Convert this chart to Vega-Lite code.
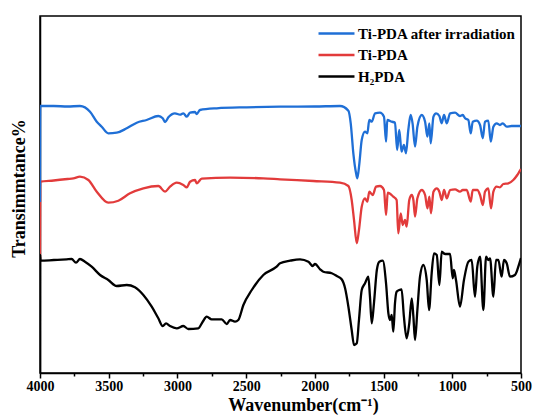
{
  "$schema": "https://vega.github.io/schema/vega-lite/v6.json",
  "width": 481,
  "height": 357,
  "autosize": {"type": "none"},
  "padding": {"left": 40, "top": 16, "right": 12, "bottom": 46},
  "background": "white",
  "config": {
    "view": {"stroke": "black", "strokeWidth": 1.5},
    "font": "Liberation Serif"
  },
  "datasets": {
    "spectra": [
      {"series": "Ti-PDA", "wn": 4000, "t": 138}, {"series": "Ti-PDA", "wn": 3998, "t": 218.3}, {"series": "Ti-PDA", "wn": 3900, "t": 219.5},
      {"series": "Ti-PDA", "wn": 3800, "t": 221}, {"series": "Ti-PDA", "wn": 3757, "t": 221.7}, {"series": "Ti-PDA", "wn": 3709, "t": 223.3},
      {"series": "Ti-PDA", "wn": 3648, "t": 220}, {"series": "Ti-PDA", "wn": 3587, "t": 208.3}, {"series": "Ti-PDA", "wn": 3503, "t": 197.3},
      {"series": "Ti-PDA", "wn": 3430, "t": 199.3}, {"series": "Ti-PDA", "wn": 3345, "t": 206.7}, {"series": "Ti-PDA", "wn": 3248, "t": 211.7},
      {"series": "Ti-PDA", "wn": 3139, "t": 214}, {"series": "Ti-PDA", "wn": 3090, "t": 208.3}, {"series": "Ti-PDA", "wn": 3054, "t": 213.3},
      {"series": "Ti-PDA", "wn": 3005, "t": 217.3}, {"series": "Ti-PDA", "wn": 2957, "t": 215}, {"series": "Ti-PDA", "wn": 2932, "t": 212.7},
      {"series": "Ti-PDA", "wn": 2908, "t": 218.3}, {"series": "Ti-PDA", "wn": 2872, "t": 220}, {"series": "Ti-PDA", "wn": 2860, "t": 216.7},
      {"series": "Ti-PDA", "wn": 2823, "t": 221.3}, {"series": "Ti-PDA", "wn": 2617, "t": 222.3}, {"series": "Ti-PDA", "wn": 2375, "t": 221.7},
      {"series": "Ti-PDA", "wn": 2253, "t": 220.7}, {"series": "Ti-PDA", "wn": 2011, "t": 219}, {"series": "Ti-PDA", "wn": 1817, "t": 217.3},
      {"series": "Ti-PDA", "wn": 1756, "t": 214}, {"series": "Ti-PDA", "wn": 1732, "t": 200}, {"series": "Ti-PDA", "wn": 1715, "t": 180},
      {"series": "Ti-PDA", "wn": 1695, "t": 156.7}, {"series": "Ti-PDA", "wn": 1679, "t": 170}, {"series": "Ti-PDA", "wn": 1659, "t": 193.3},
      {"series": "Ti-PDA", "wn": 1635, "t": 201.7}, {"series": "Ti-PDA", "wn": 1618, "t": 198.3}, {"series": "Ti-PDA", "wn": 1604, "t": 208.3},
      {"series": "Ti-PDA", "wn": 1579, "t": 205}, {"series": "Ti-PDA", "wn": 1555, "t": 213.3}, {"series": "Ti-PDA", "wn": 1526, "t": 214},
      {"series": "Ti-PDA", "wn": 1497, "t": 210}, {"series": "Ti-PDA", "wn": 1482, "t": 185}, {"series": "Ti-PDA", "wn": 1470, "t": 207.3},
      {"series": "Ti-PDA", "wn": 1429, "t": 203.3}, {"series": "Ti-PDA", "wn": 1405, "t": 200}, {"series": "Ti-PDA", "wn": 1393, "t": 166.7},
      {"series": "Ti-PDA", "wn": 1375, "t": 186.7}, {"series": "Ti-PDA", "wn": 1361, "t": 175}, {"series": "Ti-PDA", "wn": 1344, "t": 180},
      {"series": "Ti-PDA", "wn": 1332, "t": 173.3}, {"series": "Ti-PDA", "wn": 1313, "t": 200}, {"series": "Ti-PDA", "wn": 1295, "t": 205},
      {"series": "Ti-PDA", "wn": 1283, "t": 200}, {"series": "Ti-PDA", "wn": 1271, "t": 183.3}, {"series": "Ti-PDA", "wn": 1254, "t": 201.7},
      {"series": "Ti-PDA", "wn": 1222, "t": 210}, {"series": "Ti-PDA", "wn": 1198, "t": 205}, {"series": "Ti-PDA", "wn": 1181, "t": 191.7},
      {"series": "Ti-PDA", "wn": 1167, "t": 203.3}, {"series": "Ti-PDA", "wn": 1155, "t": 186.7}, {"series": "Ti-PDA", "wn": 1137, "t": 208.3},
      {"series": "Ti-PDA", "wn": 1113, "t": 211.7}, {"series": "Ti-PDA", "wn": 1094, "t": 208.3}, {"series": "Ti-PDA", "wn": 1077, "t": 200},
      {"series": "Ti-PDA", "wn": 1060, "t": 210}, {"series": "Ti-PDA", "wn": 1040, "t": 201.7}, {"series": "Ti-PDA", "wn": 1016, "t": 210},
      {"series": "Ti-PDA", "wn": 980, "t": 210.7}, {"series": "Ti-PDA", "wn": 944, "t": 208.3}, {"series": "Ti-PDA", "wn": 924, "t": 210},
      {"series": "Ti-PDA", "wn": 895, "t": 210}, {"series": "Ti-PDA", "wn": 866, "t": 198.3}, {"series": "Ti-PDA", "wn": 851, "t": 210},
      {"series": "Ti-PDA", "wn": 818, "t": 210}, {"series": "Ti-PDA", "wn": 798, "t": 205}, {"series": "Ti-PDA", "wn": 778, "t": 195},
      {"series": "Ti-PDA", "wn": 762, "t": 208.3}, {"series": "Ti-PDA", "wn": 738, "t": 211.7}, {"series": "Ti-PDA", "wn": 718, "t": 191.7},
      {"series": "Ti-PDA", "wn": 701, "t": 208.3}, {"series": "Ti-PDA", "wn": 677, "t": 213.3}, {"series": "Ti-PDA", "wn": 653, "t": 212.7},
      {"series": "Ti-PDA", "wn": 629, "t": 216}, {"series": "Ti-PDA", "wn": 592, "t": 216.7}, {"series": "Ti-PDA", "wn": 556, "t": 220},
      {"series": "Ti-PDA", "wn": 527, "t": 225}, {"series": "Ti-PDA", "wn": 512, "t": 228.3}, {"series": "Ti-PDA", "wn": 500, "t": 231},

      {"series": "Ti-PDA after irradiation", "wn": 4000, "t": 198}, {"series": "Ti-PDA after irradiation", "wn": 3998, "t": 294},
      {"series": "Ti-PDA after irradiation", "wn": 3900, "t": 294}, {"series": "Ti-PDA after irradiation", "wn": 3800, "t": 293.5},
      {"series": "Ti-PDA after irradiation", "wn": 3709, "t": 294}, {"series": "Ti-PDA after irradiation", "wn": 3636, "t": 288.3},
      {"series": "Ti-PDA after irradiation", "wn": 3587, "t": 278.3}, {"series": "Ti-PDA after irradiation", "wn": 3551, "t": 273.3},
      {"series": "Ti-PDA after irradiation", "wn": 3503, "t": 266.7}, {"series": "Ti-PDA after irradiation", "wn": 3442, "t": 267.3},
      {"series": "Ti-PDA after irradiation", "wn": 3369, "t": 271.7}, {"series": "Ti-PDA after irradiation", "wn": 3296, "t": 277.3},
      {"series": "Ti-PDA after irradiation", "wn": 3224, "t": 280}, {"series": "Ti-PDA after irradiation", "wn": 3139, "t": 284},
      {"series": "Ti-PDA after irradiation", "wn": 3107, "t": 281.7}, {"series": "Ti-PDA after irradiation", "wn": 3090, "t": 278},
      {"series": "Ti-PDA after irradiation", "wn": 3066, "t": 282.7}, {"series": "Ti-PDA after irradiation", "wn": 3018, "t": 286.7},
      {"series": "Ti-PDA after irradiation", "wn": 2981, "t": 285.3}, {"series": "Ti-PDA after irradiation", "wn": 2957, "t": 286.7},
      {"series": "Ti-PDA after irradiation", "wn": 2932, "t": 283.3}, {"series": "Ti-PDA after irradiation", "wn": 2908, "t": 287.3},
      {"series": "Ti-PDA after irradiation", "wn": 2872, "t": 288}, {"series": "Ti-PDA after irradiation", "wn": 2860, "t": 286},
      {"series": "Ti-PDA after irradiation", "wn": 2836, "t": 290}, {"series": "Ti-PDA after irradiation", "wn": 2714, "t": 291.7},
      {"series": "Ti-PDA after irradiation", "wn": 2496, "t": 292.7}, {"series": "Ti-PDA after irradiation", "wn": 2253, "t": 293.3},
      {"series": "Ti-PDA after irradiation", "wn": 2000, "t": 293.5}, {"series": "Ti-PDA after irradiation", "wn": 1817, "t": 294},
      {"series": "Ti-PDA after irradiation", "wn": 1756, "t": 289.3}, {"series": "Ti-PDA after irradiation", "wn": 1739, "t": 276.7},
      {"series": "Ti-PDA after irradiation", "wn": 1720, "t": 246.7}, {"series": "Ti-PDA after irradiation", "wn": 1700, "t": 226.7},
      {"series": "Ti-PDA after irradiation", "wn": 1691, "t": 221.7}, {"series": "Ti-PDA after irradiation", "wn": 1676, "t": 236.7},
      {"series": "Ti-PDA after irradiation", "wn": 1659, "t": 260}, {"series": "Ti-PDA after irradiation", "wn": 1635, "t": 268.3},
      {"series": "Ti-PDA after irradiation", "wn": 1618, "t": 266.7}, {"series": "Ti-PDA after irradiation", "wn": 1604, "t": 280},
      {"series": "Ti-PDA after irradiation", "wn": 1586, "t": 278.3}, {"series": "Ti-PDA after irradiation", "wn": 1562, "t": 286.7},
      {"series": "Ti-PDA after irradiation", "wn": 1526, "t": 287.3}, {"series": "Ti-PDA after irradiation", "wn": 1497, "t": 283.3},
      {"series": "Ti-PDA after irradiation", "wn": 1482, "t": 258.3}, {"series": "Ti-PDA after irradiation", "wn": 1473, "t": 280},
      {"series": "Ti-PDA after irradiation", "wn": 1441, "t": 278.3}, {"series": "Ti-PDA after irradiation", "wn": 1417, "t": 277.3},
      {"series": "Ti-PDA after irradiation", "wn": 1401, "t": 250}, {"series": "Ti-PDA after irradiation", "wn": 1386, "t": 270},
      {"series": "Ti-PDA after irradiation", "wn": 1369, "t": 248.3}, {"series": "Ti-PDA after irradiation", "wn": 1352, "t": 255},
      {"series": "Ti-PDA after irradiation", "wn": 1337, "t": 246.7}, {"series": "Ti-PDA after irradiation", "wn": 1320, "t": 270},
      {"series": "Ti-PDA after irradiation", "wn": 1303, "t": 285}, {"series": "Ti-PDA after irradiation", "wn": 1289, "t": 276.7},
      {"series": "Ti-PDA after irradiation", "wn": 1271, "t": 253.3}, {"series": "Ti-PDA after irradiation", "wn": 1254, "t": 273.3},
      {"series": "Ti-PDA after irradiation", "wn": 1222, "t": 285}, {"series": "Ti-PDA after irradiation", "wn": 1198, "t": 278.3},
      {"series": "Ti-PDA after irradiation", "wn": 1181, "t": 263.3}, {"series": "Ti-PDA after irradiation", "wn": 1167, "t": 276.7},
      {"series": "Ti-PDA after irradiation", "wn": 1157, "t": 256.7}, {"series": "Ti-PDA after irradiation", "wn": 1137, "t": 283.3},
      {"series": "Ti-PDA after irradiation", "wn": 1118, "t": 286.7}, {"series": "Ti-PDA after irradiation", "wn": 1094, "t": 284},
      {"series": "Ti-PDA after irradiation", "wn": 1077, "t": 276.7}, {"series": "Ti-PDA after irradiation", "wn": 1060, "t": 285},
      {"series": "Ti-PDA after irradiation", "wn": 1040, "t": 276.7}, {"series": "Ti-PDA after irradiation", "wn": 1016, "t": 286.7},
      {"series": "Ti-PDA after irradiation", "wn": 980, "t": 287.3}, {"series": "Ti-PDA after irradiation", "wn": 944, "t": 284},
      {"series": "Ti-PDA after irradiation", "wn": 924, "t": 285}, {"series": "Ti-PDA after irradiation", "wn": 907, "t": 281.7},
      {"series": "Ti-PDA after irradiation", "wn": 883, "t": 280}, {"series": "Ti-PDA after irradiation", "wn": 866, "t": 266.7},
      {"series": "Ti-PDA after irradiation", "wn": 851, "t": 278.3}, {"series": "Ti-PDA after irradiation", "wn": 822, "t": 279.3},
      {"series": "Ti-PDA after irradiation", "wn": 798, "t": 275}, {"series": "Ti-PDA after irradiation", "wn": 778, "t": 261.7},
      {"series": "Ti-PDA after irradiation", "wn": 762, "t": 278.3}, {"series": "Ti-PDA after irradiation", "wn": 738, "t": 279.3},
      {"series": "Ti-PDA after irradiation", "wn": 720, "t": 258.3}, {"series": "Ti-PDA after irradiation", "wn": 701, "t": 273.3},
      {"series": "Ti-PDA after irradiation", "wn": 677, "t": 276.7}, {"series": "Ti-PDA after irradiation", "wn": 653, "t": 275},
      {"series": "Ti-PDA after irradiation", "wn": 633, "t": 276.7}, {"series": "Ti-PDA after irradiation", "wn": 604, "t": 273.3},
      {"series": "Ti-PDA after irradiation", "wn": 568, "t": 274}, {"series": "Ti-PDA after irradiation", "wn": 520, "t": 274},
      {"series": "Ti-PDA after irradiation", "wn": 500, "t": 274},

      {"series": "H₂PDA", "wn": 4000, "t": 0}, {"series": "H₂PDA", "wn": 3999, "t": 145}, {"series": "H₂PDA", "wn": 3996, "t": 139.3},
      {"series": "H₂PDA", "wn": 3900, "t": 140}, {"series": "H₂PDA", "wn": 3806, "t": 140.7}, {"series": "H₂PDA", "wn": 3770, "t": 141},
      {"series": "H₂PDA", "wn": 3738, "t": 137.3}, {"series": "H₂PDA", "wn": 3709, "t": 141}, {"series": "H₂PDA", "wn": 3673, "t": 138.3},
      {"series": "H₂PDA", "wn": 3624, "t": 133.3}, {"series": "H₂PDA", "wn": 3563, "t": 125}, {"series": "H₂PDA", "wn": 3503, "t": 120},
      {"series": "H₂PDA", "wn": 3442, "t": 114}, {"series": "H₂PDA", "wn": 3369, "t": 115}, {"series": "H₂PDA", "wn": 3309, "t": 112.7},
      {"series": "H₂PDA", "wn": 3248, "t": 105}, {"series": "H₂PDA", "wn": 3187, "t": 93.3}, {"series": "H₂PDA", "wn": 3139, "t": 81.7},
      {"series": "H₂PDA", "wn": 3107, "t": 74}, {"series": "H₂PDA", "wn": 3083, "t": 76.7}, {"series": "H₂PDA", "wn": 3054, "t": 74},
      {"series": "H₂PDA", "wn": 3005, "t": 71.7}, {"series": "H₂PDA", "wn": 2957, "t": 74}, {"series": "H₂PDA", "wn": 2921, "t": 71},
      {"series": "H₂PDA", "wn": 2848, "t": 71.7}, {"series": "H₂PDA", "wn": 2816, "t": 78.3}, {"series": "H₂PDA", "wn": 2787, "t": 83.3},
      {"series": "H₂PDA", "wn": 2751, "t": 80.7}, {"series": "H₂PDA", "wn": 2678, "t": 80.7}, {"series": "H₂PDA", "wn": 2641, "t": 76},
      {"series": "H₂PDA", "wn": 2617, "t": 80}, {"series": "H₂PDA", "wn": 2581, "t": 78.3}, {"series": "H₂PDA", "wn": 2557, "t": 80},
      {"series": "H₂PDA", "wn": 2520, "t": 95}, {"series": "H₂PDA", "wn": 2459, "t": 110}, {"series": "H₂PDA", "wn": 2375, "t": 125},
      {"series": "H₂PDA", "wn": 2278, "t": 133.3}, {"series": "H₂PDA", "wn": 2253, "t": 136.7}, {"series": "H₂PDA", "wn": 2180, "t": 139.3},
      {"series": "H₂PDA", "wn": 2108, "t": 140.7}, {"series": "H₂PDA", "wn": 2047, "t": 138.3}, {"series": "H₂PDA", "wn": 2016, "t": 134},
      {"series": "H₂PDA", "wn": 1999, "t": 136}, {"series": "H₂PDA", "wn": 1962, "t": 130.7}, {"series": "H₂PDA", "wn": 1938, "t": 128.3},
      {"series": "H₂PDA", "wn": 1877, "t": 126.7}, {"series": "H₂PDA", "wn": 1841, "t": 124}, {"series": "H₂PDA", "wn": 1805, "t": 120.7},
      {"series": "H₂PDA", "wn": 1780, "t": 111.7}, {"series": "H₂PDA", "wn": 1756, "t": 93.3}, {"series": "H₂PDA", "wn": 1732, "t": 70},
      {"series": "H₂PDA", "wn": 1715, "t": 55}, {"series": "H₂PDA", "wn": 1695, "t": 56.7}, {"series": "H₂PDA", "wn": 1679, "t": 80},
      {"series": "H₂PDA", "wn": 1659, "t": 110}, {"series": "H₂PDA", "wn": 1635, "t": 116.7}, {"series": "H₂PDA", "wn": 1611, "t": 123.3},
      {"series": "H₂PDA", "wn": 1599, "t": 103.3}, {"series": "H₂PDA", "wn": 1586, "t": 76.7}, {"series": "H₂PDA", "wn": 1570, "t": 96.7},
      {"series": "H₂PDA", "wn": 1549, "t": 130}, {"series": "H₂PDA", "wn": 1531, "t": 138.3}, {"series": "H₂PDA", "wn": 1506, "t": 139.3},
      {"series": "H₂PDA", "wn": 1482, "t": 116.7}, {"series": "H₂PDA", "wn": 1465, "t": 86.7}, {"series": "H₂PDA", "wn": 1453, "t": 80},
      {"series": "H₂PDA", "wn": 1441, "t": 85}, {"series": "H₂PDA", "wn": 1429, "t": 68.3}, {"series": "H₂PDA", "wn": 1417, "t": 96.7},
      {"series": "H₂PDA", "wn": 1405, "t": 108.3}, {"series": "H₂PDA", "wn": 1386, "t": 110}, {"series": "H₂PDA", "wn": 1369, "t": 110.7},
      {"series": "H₂PDA", "wn": 1352, "t": 83.3}, {"series": "H₂PDA", "wn": 1332, "t": 61.7}, {"series": "H₂PDA", "wn": 1313, "t": 76.7},
      {"series": "H₂PDA", "wn": 1295, "t": 101.7}, {"series": "H₂PDA", "wn": 1283, "t": 83.3}, {"series": "H₂PDA", "wn": 1271, "t": 60},
      {"series": "H₂PDA", "wn": 1254, "t": 90}, {"series": "H₂PDA", "wn": 1235, "t": 123.3}, {"series": "H₂PDA", "wn": 1211, "t": 135},
      {"series": "H₂PDA", "wn": 1186, "t": 120}, {"series": "H₂PDA", "wn": 1169, "t": 90}, {"series": "H₂PDA", "wn": 1150, "t": 126.7},
      {"series": "H₂PDA", "wn": 1133, "t": 146.7}, {"series": "H₂PDA", "wn": 1113, "t": 145}, {"series": "H₂PDA", "wn": 1094, "t": 115},
      {"series": "H₂PDA", "wn": 1077, "t": 148.3}, {"series": "H₂PDA", "wn": 1053, "t": 146}, {"series": "H₂PDA", "wn": 1016, "t": 146},
      {"series": "H₂PDA", "wn": 997, "t": 121.7}, {"series": "H₂PDA", "wn": 988, "t": 130}, {"series": "H₂PDA", "wn": 973, "t": 120},
      {"series": "H₂PDA", "wn": 944, "t": 93.3}, {"series": "H₂PDA", "wn": 915, "t": 120}, {"series": "H₂PDA", "wn": 883, "t": 138.3},
      {"series": "H₂PDA", "wn": 859, "t": 140}, {"series": "H₂PDA", "wn": 835, "t": 103.3}, {"series": "H₂PDA", "wn": 818, "t": 133.3},
      {"series": "H₂PDA", "wn": 798, "t": 143.3}, {"series": "H₂PDA", "wn": 774, "t": 90}, {"series": "H₂PDA", "wn": 754, "t": 143.3},
      {"series": "H₂PDA", "wn": 738, "t": 140}, {"series": "H₂PDA", "wn": 725, "t": 141.7}, {"series": "H₂PDA", "wn": 701, "t": 103.3},
      {"series": "H₂PDA", "wn": 682, "t": 140}, {"series": "H₂PDA", "wn": 665, "t": 140}, {"series": "H₂PDA", "wn": 641, "t": 123.3},
      {"series": "H₂PDA", "wn": 624, "t": 140}, {"series": "H₂PDA", "wn": 604, "t": 136.7}, {"series": "H₂PDA", "wn": 580, "t": 123.3},
      {"series": "H₂PDA", "wn": 544, "t": 125}, {"series": "H₂PDA", "wn": 512, "t": 136.7}, {"series": "H₂PDA", "wn": 500, "t": 142}
    ]
  },
  "data": {"name": "spectra"},
  "mark": {"type": "line", "clip": true, "strokeWidth": 2.3, "interpolate": "monotone"},
  "encoding": {
    "x": {
      "field": "wn",
      "type": "quantitative",
      "scale": {"domain": [500, 4000], "reverse": true, "nice": false, "zero": false},
      "axis": {
        "title": "Wavenumber(cm⁻¹)",
        "titleFont": "Liberation Serif",
        "titleFontSize": 18,
        "titleFontWeight": "bold",
        "titleColor": "black",
        "titlePadding": 3,
        "titleX": 263,
        "values": [500, 750, 1000, 1250, 1500, 1750, 2000, 2250, 2500, 2750, 3000, 3250, 3500, 3750, 4000],
        "labelExpr": "datum.value % 500 === 0 ? datum.label : ''",
        "format": "d",
        "labelFont": "Liberation Serif",
        "labelFontSize": 14,
        "labelFontWeight": "bold",
        "labelColor": "black",
        "labelPadding": 1,
        "labelFlush": false,
        "labelOverlap": false,
        "grid": false,
        "domainColor": "black",
        "domainWidth": 1.5,
        "tickColor": "black",
        "tickWidth": 1.5,
        "tickSize": {"condition": {"test": "datum.value % 500 === 0", "value": 5}, "value": 3}
      }
    },
    "y": {
      "field": "t",
      "type": "quantitative",
      "scale": {"domain": [27, 384], "nice": false, "zero": false},
      "axis": {
        "title": "Transimmtance%",
        "titleFont": "Liberation Serif",
        "titleFontSize": 18,
        "titleFontWeight": "bold",
        "titleColor": "black",
        "titlePadding": 12,
        "titleY": 172,
        "labels": false,
        "ticks": false,
        "grid": false,
        "domainColor": "black",
        "domainWidth": 1.5
      }
    },
    "color": {
      "field": "series",
      "type": "nominal",
      "scale": {
        "domain": ["Ti-PDA after irradiation", "Ti-PDA", "H₂PDA"],
        "range": ["#1f6fd6", "#e23b3b", "#000000"]
      },
      "legend": {
        "title": null,
        "orient": "none",
        "legendX": 288,
        "legendY": 9,
        "padding": 0,
        "symbolType": "M-2.5,0H2.5",
        "symbolSize": 207,
        "symbolStrokeWidth": 2.5,
        "symbolFillColor": "transparent",
        "labelFont": "Liberation Serif",
        "labelFontSize": 15,
        "labelFontWeight": "bold",
        "labelColor": "black",
        "labelOffset": 13,
        "rowPadding": 4.5,
        "labelLimit": 300
      }
    },
    "order": {"field": "wn", "type": "quantitative", "sort": "descending"}
  }
}
